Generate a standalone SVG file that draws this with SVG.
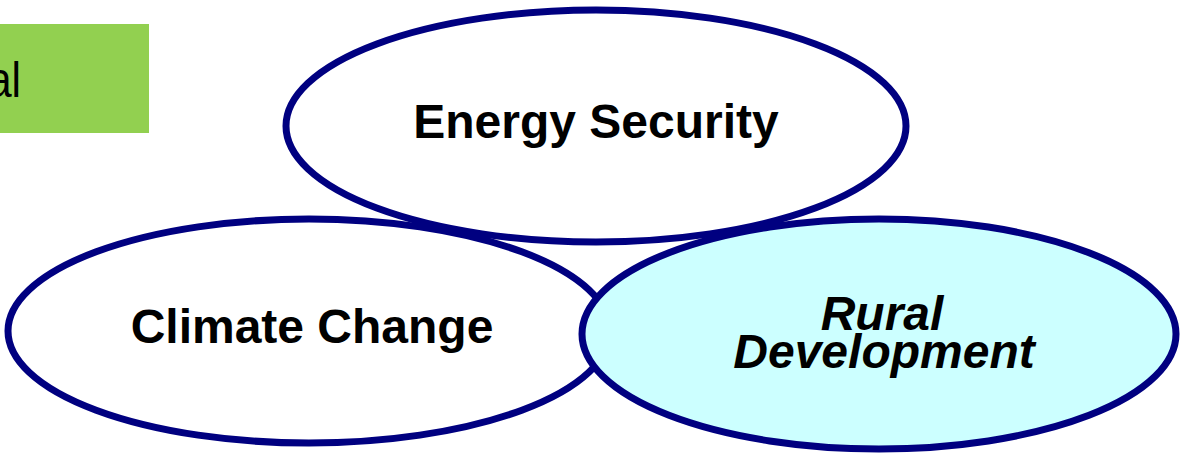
<svg xmlns="http://www.w3.org/2000/svg" width="1180" height="460" viewBox="0 0 1180 460">
<style>
.ell{stroke:#000080;stroke-width:7}
.lbl{font-family:"Liberation Sans",Arial,sans-serif;font-weight:bold;font-size:48px;fill:#000;text-anchor:middle}
.it{font-style:italic}
</style>
<rect width="1180" height="460" fill="#fff"/>
<g id="green-box">
<rect x="-10" y="24" width="159" height="109" fill="#92D050"/>
<text x="21" y="97" font-family="'Liberation Sans',Arial,sans-serif" font-size="50" text-anchor="end" transform="translate(21 0) scale(0.85 1) translate(-21 0)">al</text>
</g>
<g id="connectors"></g>
<g id="climate-change">
<ellipse class="ell" cx="309" cy="331" rx="301" ry="112" fill="#fff"/>
<text class="lbl" x="312" y="343">Climate Change</text>
</g>
<g id="energy-security">
<ellipse class="ell" cx="596" cy="126" rx="310" ry="116" fill="#fff"/>
<text class="lbl" x="596" y="138">Energy Security</text>
</g>
<g id="rural-development">
<ellipse class="ell" cx="879" cy="334" rx="297" ry="115" fill="#CCFFFF"/>
<text class="lbl it" x="882" y="330">Rural</text>
<text class="lbl it" x="884" y="368">Development</text>
</g>
</svg>
